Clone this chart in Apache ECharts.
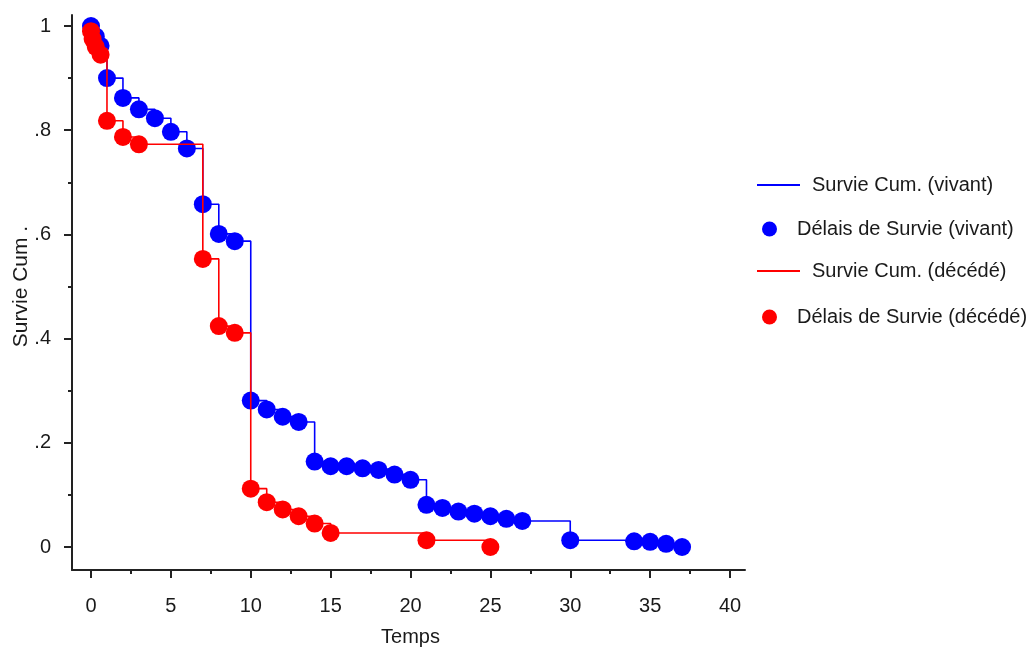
<!DOCTYPE html>
<html>
<head>
<meta charset="utf-8">
<script src="https://cdn.jsdelivr.net/npm/echarts@6/dist/echarts.min.js"></script>
<style>
html,body{margin:0;padding:0;background:#fff;}
#chart{width:1030px;height:654px;}
</style>
</head>
<body>
<div id="chart"></div>
<script>
// Survival times and cumulative survival, group "vivant"
const vivantTimes = [0, 0.3, 0.6, 1, 2, 3, 4, 5, 6, 7, 8, 9, 10, 11, 12, 13, 14, 15, 16, 17, 18, 19, 20, 21, 22, 23, 24, 25, 26, 27, 30, 34, 35, 36, 37];
const vivantSurv  = [1.0, 0.98, 0.962, 0.9, 0.862, 0.84, 0.823, 0.797, 0.765, 0.658, 0.601, 0.587, 0.281, 0.264, 0.25, 0.24, 0.164, 0.155, 0.155, 0.151, 0.148, 0.139, 0.129, 0.081, 0.075, 0.068, 0.064, 0.059, 0.054, 0.05, 0.013, 0.011, 0.01, 0.006, 0.0];
// group "décédé"
const decedeTimes = [0, 0.1, 0.3, 0.6, 1, 2, 3, 7, 8, 9, 10, 11, 12, 13, 14, 15, 21, 25];
const decedeSurv  = [0.99, 0.975, 0.96, 0.945, 0.818, 0.787, 0.773, 0.553, 0.424, 0.411, 0.112, 0.086, 0.072, 0.059, 0.045, 0.027, 0.013, 0.0];

const xTicks = [0, 5, 10, 15, 20, 25, 30, 35, 40];
const yTicks = [0, 0.2, 0.4, 0.6, 0.8, 1];

const names = {
  lineV: 'Survie Cum. (vivant)',
  dotV: 'Délais de Survie (vivant)',
  lineD: 'Survie Cum. (décédé)',
  dotD: 'Délais de Survie (décédé)'
};

const BLUE = '#0000ff', RED = '#ff0000', TXT = '#1a1a1a';
const FONT = "'Liberation Sans', Arial, sans-serif";

const pairs = (xs, ys) => xs.map((x, i) => [x, ys[i]]);

const hiddenLine = {show: true, onZero: false, lineStyle: {color: 'rgba(0,0,0,0)', width: 0}};

const chart = echarts.init(document.getElementById('chart'), null, {renderer: 'canvas'});
chart.setOption({
  animation: false,
  backgroundColor: '#fff',
  grid: [
    {left: 91, right: 300, top: 26, bottom: 107, containLabel: false, outerBoundsMode: 'none'},
    {left: 72, right: 285, top: 15, bottom: 84, containLabel: false, outerBoundsMode: 'none'}
  ],
  xAxis: [
    {
      gridIndex: 0, type: 'value', min: xTicks[0], max: xTicks[xTicks.length - 1], interval: 5,
      offset: 23,
      axisLine: hiddenLine,
      axisTick: {show: true, length: 8, lineStyle: {color: '#222', width: 2}},
      minorTick: {show: true, splitNumber: 2, length: 4, lineStyle: {color: '#222', width: 2}},
      splitLine: {show: false},
      axisLabel: {margin: 26, color: TXT, fontSize: 20, fontFamily: FONT},
      name: 'Temps', nameLocation: 'middle', nameGap: 57, nameMoveOverlap: false,
      nameTextStyle: {color: TXT, fontSize: 20, fontFamily: FONT}
    },
    {
      gridIndex: 1, type: 'value', min: 0, max: 1,
      axisLine: {show: true, onZero: false, lineStyle: {color: '#222', width: 2}},
      axisTick: {show: false}, axisLabel: {show: false}, splitLine: {show: false}
    }
  ],
  yAxis: [
    {
      gridIndex: 0, type: 'value', min: yTicks[0], max: yTicks[yTicks.length - 1], interval: 0.2,
      offset: 19,
      axisLine: hiddenLine,
      axisTick: {show: true, length: 8, lineStyle: {color: '#222', width: 2}},
      minorTick: {show: true, splitNumber: 2, length: 4, lineStyle: {color: '#222', width: 2}},
      splitLine: {show: false},
      axisLabel: {
        margin: 21, color: TXT, fontSize: 20, fontFamily: FONT,
        formatter: v => {
          const s = (Math.round(v * 10) / 10).toString();
          return s.startsWith('0.') ? s.slice(1) : s;
        }
      },
      name: 'Survie Cum .', nameLocation: 'middle', nameGap: 40, nameMoveOverlap: false,
      nameTextStyle: {color: TXT, fontSize: 21, fontFamily: FONT}
    },
    {
      gridIndex: 1, type: 'value', min: 0, max: 1,
      axisLine: {show: true, onZero: false, lineStyle: {color: '#222', width: 2}},
      axisTick: {show: false}, axisLabel: {show: false}, splitLine: {show: false}
    }
  ],
  legend: [
    {
      data: [names.lineV, names.lineD],
      orient: 'vertical', left: 752, top: 170,
      itemWidth: 43, itemHeight: 2, itemGap: 66, icon: 'rect',
      textStyle: {color: TXT, fontSize: 20, fontFamily: FONT, padding: [0, 0, 0, 7]}
    },
    {
      data: [names.dotV, names.dotD],
      orient: 'vertical', left: 757, top: 214,
      itemWidth: 15, itemHeight: 16, itemGap: 68,
      icon: 'circle',
      textStyle: {color: TXT, fontSize: 20, fontFamily: FONT, padding: [0, 0, 0, 15]}
    }
  ],
  series: [
    {
      name: names.lineV, type: 'line', step: 'end', xAxisIndex: 0, yAxisIndex: 0,
      data: pairs(vivantTimes, vivantSurv), showSymbol: false, symbol: 'none',
      lineStyle: {color: BLUE, width: 1.6}, itemStyle: {color: BLUE}, z: 2
    },
    {
      name: names.dotV, type: 'scatter', xAxisIndex: 0, yAxisIndex: 0,
      data: pairs(vivantTimes, vivantSurv), symbol: 'circle', symbolSize: 18,
      itemStyle: {color: BLUE, opacity: 1}, z: 3
    },
    {
      name: names.lineD, type: 'line', step: 'end', xAxisIndex: 0, yAxisIndex: 0,
      data: pairs(decedeTimes, decedeSurv), showSymbol: false, symbol: 'none',
      lineStyle: {color: RED, width: 1.6}, itemStyle: {color: RED}, z: 4
    },
    {
      name: names.dotD, type: 'scatter', xAxisIndex: 0, yAxisIndex: 0,
      data: pairs(decedeTimes, decedeSurv), symbol: 'circle', symbolSize: 18,
      itemStyle: {color: RED, opacity: 1}, z: 5
    }
  ]
});
</script>
</body>
</html>
